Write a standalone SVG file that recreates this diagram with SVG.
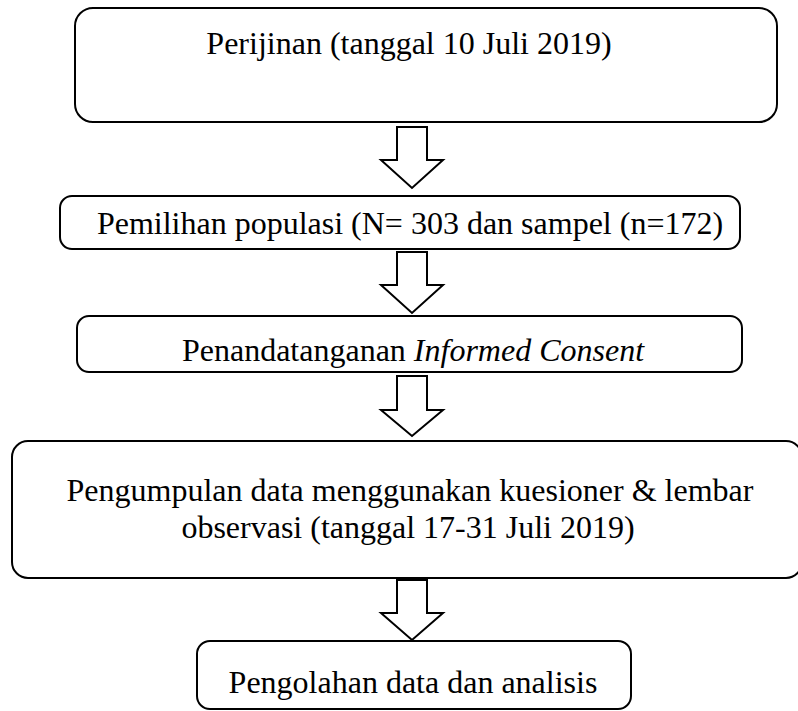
<svg xmlns="http://www.w3.org/2000/svg" width="798" height="711" viewBox="0 0 798 711">
<style>
.box{fill:#fff;stroke:#000;stroke-width:2}
.arr{fill:#fff;stroke:#000;stroke-width:2;stroke-linejoin:miter}
.t{font-family:"Liberation Serif","Times New Roman",serif;font-size:32px;fill:#000;text-anchor:middle}
</style>
<rect width="798" height="711" fill="#fff"/>
<g id="n1"><rect class="box" x="75" y="8" width="702" height="114" rx="18"/><text class="t" x="409" y="54">Perijinan (tanggal 10 Juli 2019)</text></g>
<g id="n2"><rect class="box" x="60" y="196" width="680" height="53" rx="12"/><text class="t" x="410" y="234">Pemilihan populasi (N= 303 dan sampel (n=172)</text></g>
<g id="n3"><rect class="box" x="77" y="316" width="665" height="56" rx="12"/><text class="t" x="413" y="361">Penandatanganan <tspan font-style="italic">Informed Consent</tspan></text></g>
<g id="n4"><rect class="box" x="12" y="441" width="790" height="137" rx="16"/><text class="t" x="410" y="501">Pengumpulan data menggunakan kuesioner &amp; lembar</text><text class="t" x="408" y="538">observasi (tanggal 17-31 Juli 2019)</text></g>
<g id="n5"><rect class="box" x="197" y="641" width="434" height="68" rx="13"/><text class="t" x="413" y="693">Pengolahan data dan analisis</text></g>
<g id="connectors">
<polygon class="arr" points="397,127 427,127 427,160 443,160 412,188 381,160 397,160"/>
<polygon class="arr" points="397,252 427,252 427,285 443,285 412,313 381,285 397,285"/>
<polygon class="arr" points="397,376 427,376 427,410 443,410 412,436 381,410 397,410"/>
<polygon class="arr" points="397,580 427,580 427,613 443,613 412,640 381,613 397,613"/>
</g>
</svg>
